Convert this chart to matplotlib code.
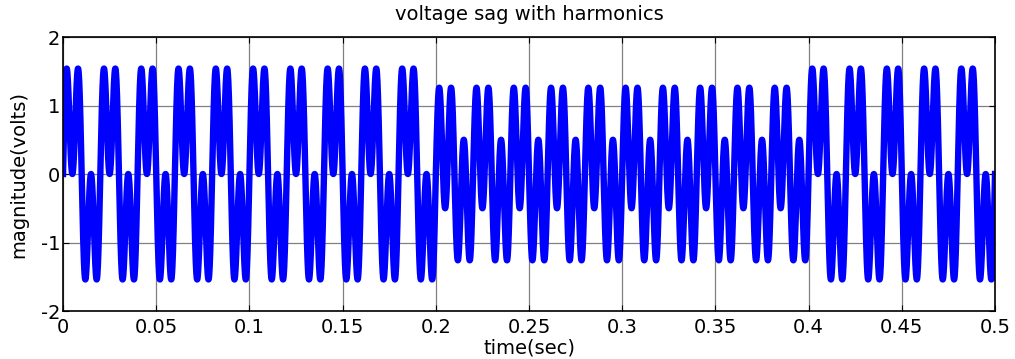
import numpy as np
import matplotlib
matplotlib.use("Agg")
import matplotlib.pyplot as plt

# signal parameters
f0 = 50.0                 # fundamental (Hz)
t_stop = 0.5              # simulation length (s)
fund_amp = 1.0            # fundamental amplitude outside the sag
sag_amp = 0.5             # fundamental amplitude during the sag
harm_order = 3            # harmonic number
harm_amp = 1.0            # harmonic amplitude
sag_start = 0.2
sag_end = 0.4

xticks = [0, 0.05, 0.1, 0.15, 0.2, 0.25, 0.3, 0.35, 0.4, 0.45, 0.5]
xtick_labels = ['0', '0.05', '0.1', '0.15', '0.2', '0.25', '0.3', '0.35', '0.4', '0.45', '0.5']
yticks = [-2, -1, 0, 1, 2]
ytick_labels = ['-2', '-1', '0', '1', '2']

t = np.linspace(0, t_stop, 20001)
a1 = np.where((t >= sag_start) & (t <= sag_end), sag_amp, fund_amp)
v = a1 * np.sin(2 * np.pi * f0 * t) + harm_amp * np.sin(2 * np.pi * harm_order * f0 * t)

plt.rcParams['font.family'] = ['DejaVu Sans']
plt.rcParams['font.size'] = 14

fig = plt.figure(figsize=(10.15, 3.59), dpi=100)
ax = fig.add_axes([0.0621, 0.1337, 0.9182, 0.7632])

ax.plot(t, v, color=(0, 0, 1), linewidth=4.6, solid_joinstyle='round')

ax.set_xlim(0, t_stop)
ax.set_ylim(-2, 2)
ax.set_xticks(xticks)
ax.set_xticklabels(xtick_labels)
ax.set_yticks(yticks)
ax.set_yticklabels(ytick_labels)
ax.set_axisbelow(True)
ax.grid(True, color='#808080', linewidth=0.9)
ax.tick_params(direction='in', length=4, width=0.8, top=True, right=True)
ax.tick_params(axis='x', pad=5)
ax.tick_params(axis='y', pad=2)

for s in ax.spines.values():
    s.set_linewidth(1.2)

ax.set_title('voltage sag with harmonics', fontsize=14, pad=12)
ax.set_xlabel('time(sec)', labelpad=1)
ax.set_ylabel('magnitude(volts)', labelpad=9)

fig.savefig('out.png', dpi=100)
